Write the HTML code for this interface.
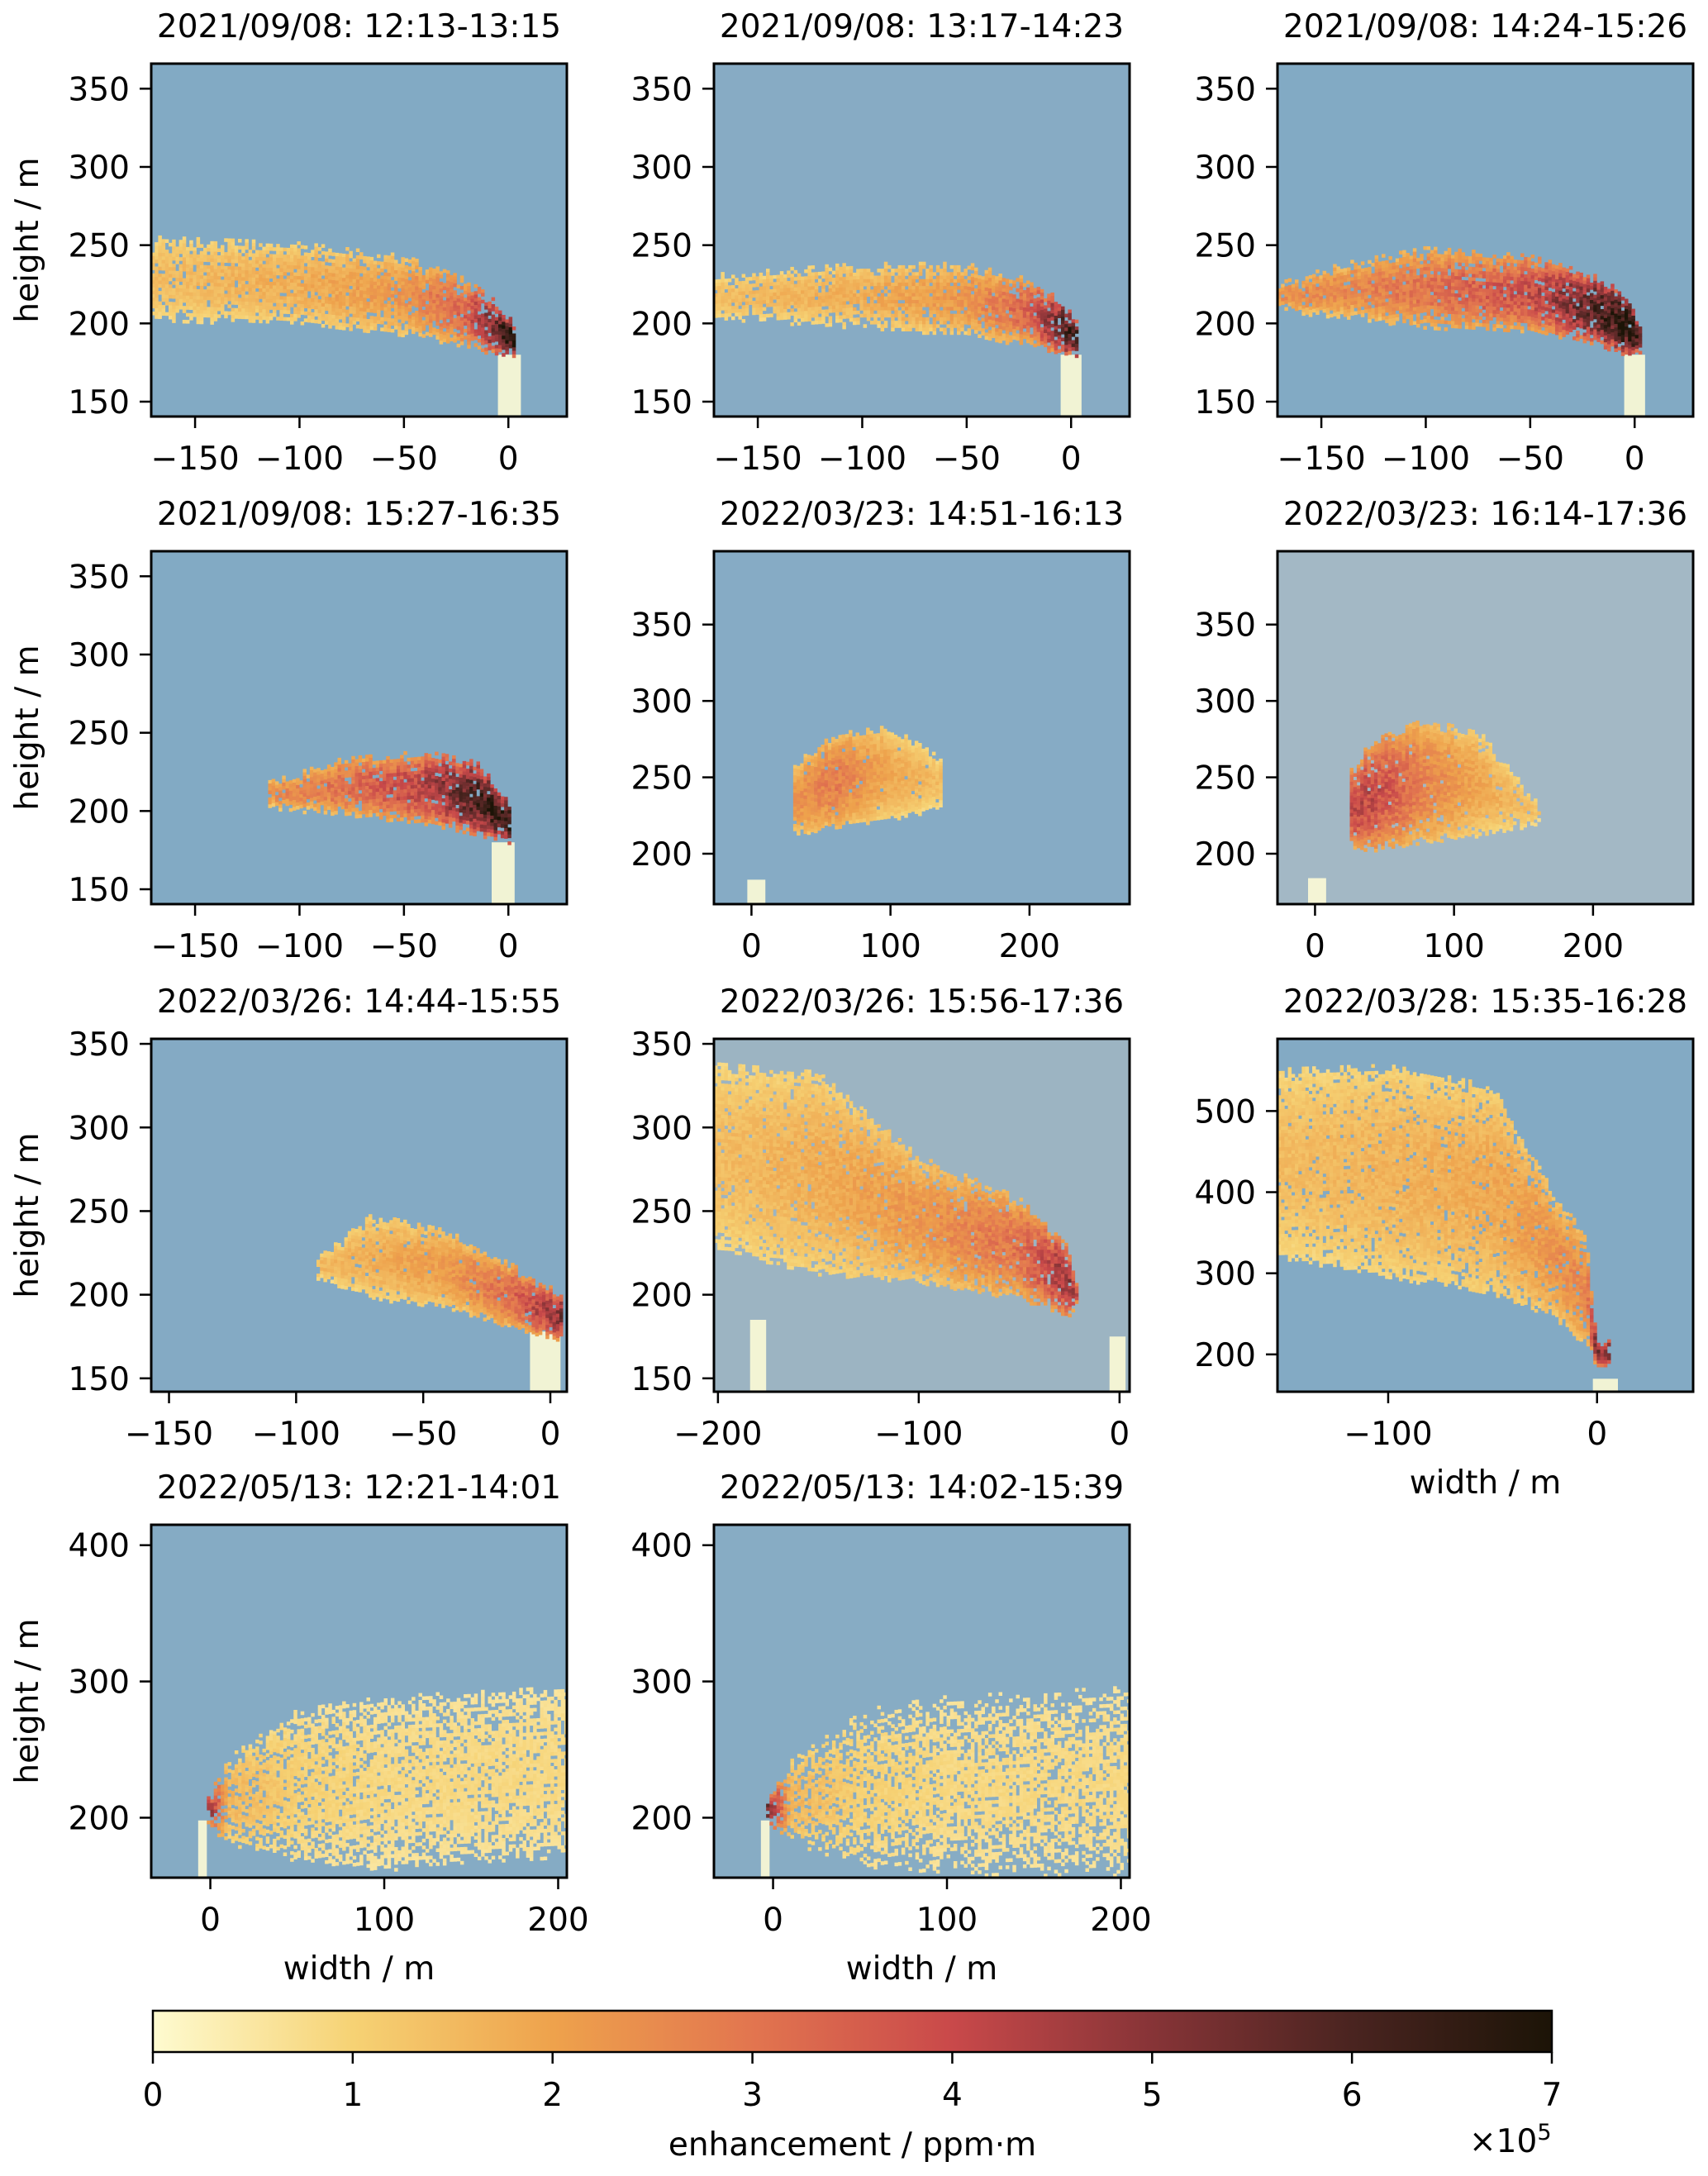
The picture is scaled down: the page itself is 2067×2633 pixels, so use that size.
<!DOCTYPE html>
<html><head><meta charset="utf-8">
<style>
html,body{margin:0;padding:0;background:#fff}
svg{display:block}
text{font-family:"DejaVu Sans","Liberation Sans",sans-serif;fill:#000}
</style></head>
<body>
<svg id="fig" xmlns="http://www.w3.org/2000/svg" width="2067" height="2633" viewBox="0 0 2067 2633">
<defs>
<linearGradient id="cbgrad" x1="0" x2="1" y1="0" y2="0">
<stop offset="0" stop-color="#fefbd0"/><stop offset="0.143" stop-color="#f6d274"/>
<stop offset="0.286" stop-color="#eea24c"/><stop offset="0.429" stop-color="#e2754f"/>
<stop offset="0.571" stop-color="#c9494a"/><stop offset="0.714" stop-color="#873437"/>
<stop offset="0.857" stop-color="#4a2420"/><stop offset="1" stop-color="#1c1407"/>
</linearGradient>
</defs>
</svg>
<script>
// ---------- data ----------
const panelTitles = ["2021/09/08: 12:13-13:15","2021/09/08: 13:17-14:23","2021/09/08: 14:24-15:26",
 "2021/09/08: 15:27-16:35","2022/03/23: 14:51-16:13","2022/03/23: 16:14-17:36",
 "2022/03/26: 14:44-15:55","2022/03/26: 15:56-17:36","2022/03/28: 15:35-16:28",
 "2022/05/13: 12:21-14:01","2022/05/13: 14:02-15:39"];
const xDomains = [[-171,28],[-171,28],[-171,28],[-171,28],[-27,272],[-27,272],[-157,6.5],[-202,5],[-153,46],[-34,205],[-34,205]];
const yDomains = [[140.5,366],[140.5,366],[140.5,366],[140.5,366],[167,398],[167,398],[142,353],[142,353],[154,589],[156,415],[156,415]];
const xTicks = [[-150,-100,-50,0],[-150,-100,-50,0],[-150,-100,-50,0],[-150,-100,-50,0],[0,100,200],[0,100,200],[-150,-100,-50,0],[-200,-100,0],[-100,0],[0,100,200],[0,100,200]];
const yTicks = [[150,200,250,300,350],[150,200,250,300,350],[150,200,250,300,350],[150,200,250,300,350],[200,250,300,350],[200,250,300,350],[150,200,250,300,350],[150,200,250,300,350],[200,300,400,500],[200,300,400],[200,300,400]];
// plume profiles: x positions, lower/upper edge (m), peak enhancement (1e5 ppm·m)
const plumeX  = [[-171,-100,-50,-20,-5,2],[-171,-100,-50,-20,-3,2],[-171,-140,-100,-50,-20,-3,2],[-115,-80,-40,-15,0],[30,60,100,135],[25,40,80,120,160],[-92,-70,-40,-15,4],[-202,-150,-100,-50,-25,-22],[-153,-100,-50,-20,-5,0,5],[-2,10,50,100,205],[-4,10,50,100,205]];
const plumeLo = [[205,202,195,188,182,180],[205,200,195,188,182,180],[210,207,200,198,190,182,182],[205,200,195,188,182],[215,220,225,232],[208,205,210,215,222],[212,200,195,182,175],[230,215,210,200,190,195],[325,300,280,250,215,190,190],[198,185,170,165,175],[198,185,165,162,160]];
const plumeHi = [[252,248,240,225,210,198],[228,235,235,225,210,198],[222,235,245,240,228,215,198],[215,230,235,228,205],[255,275,280,260],[250,270,285,275,230],[218,245,235,215,198],[335,330,280,255,225,205],[545,550,525,390,340,210,210],[208,240,275,285,292],[208,240,275,285,292]];
const plumeLevel = [[1.2,1.5,2.0,3.2,5.5,6.8],[1.2,1.5,2.0,3.2,5.5,6],[2.2,2.3,2.8,3.6,5.5,6.8,6],[2.2,2.8,4,5.8,6.5],[2.0,2.6,1.6,1.2],[3.8,3.8,2.4,1.6,1.1],[1.3,1.5,1.9,3.0,4.8],[1.2,1.5,2.0,2.8,4.5,4],[1.2,1.4,1.6,2.1,2.3,5,5],[5,1.4,0.8,0.6,0.6],[5.5,1.4,0.8,0.6,0.6]];
const holeProb = [0.18,0.2,0.15,0.12,0.05,0.08,0.08,0.12,0.12,0.35,0.5];
const stacks = [[[-5,6,140,180]],[[-5,5,140,180]],[[-5,5,140,180]],[[-8,3,140,180]],[[-3,10,167,183]],[[-5,8,167,184]],[[-8,4,142,178]],[[-184,-176,142,185],[-5,3,142,175]],[[-2,10,154,170]],[[-7,-2,156,198]],[[-7,-2,156,198]]];
const bgColors = ["#82aac4","#87abc4","#82aac4","#82aac4","#86abc5","#a3b8c5","#84aac4","#9cb4c2","#83aac4","#85abc4","#87acc4"];
const cbTicks = [0,1,2,3,4,5,6,7];
// ---------- layout ----------
const colL=[183,864,1546], colW=503, rowT=[77,667,1257,1845], rowH=427;
const FS=39;
const NS="http://www.w3.org/2000/svg";
const svg=document.getElementById('fig');
function el(tag,attrs,parent){const e=document.createElementNS(NS,tag);for(const k in attrs)e.setAttribute(k,attrs[k]);(parent||svg).appendChild(e);return e;}
const cmapStops=[[254,251,208],[246,210,116],[238,162,76],[226,117,79],[201,73,74],[135,52,55],[74,36,32],[28,20,7]];
function cmap(v){v=Math.max(0,Math.min(7,v));const i=Math.min(6,Math.floor(v)),f=v-i;const a=cmapStops[i],b=cmapStops[i+1];
 return `rgb(${Math.round(a[0]+(b[0]-a[0])*f)},${Math.round(a[1]+(b[1]-a[1])*f)},${Math.round(a[2]+(b[2]-a[2])*f)})`;}
function hash(a,b,c){let h=(a*374761393+b*668265263+c*2147483647)|0;h=(h^(h>>>13))*1274126177|0;h=h^(h>>>16);return ((h>>>0)%10000)/10000;}
function interp(xs,ys,x){if(x<=xs[0])return ys[0];for(let i=1;i<xs.length;i++){if(x<=xs[i]){const f=(x-xs[i-1])/(xs[i]-xs[i-1]);return ys[i-1]+(ys[i]-ys[i-1])*f;}}return ys[ys.length-1];}

for(let p=0;p<11;p++){
 const r=Math.floor(p/3),c=p%3;
 const L=colL[c],T=rowT[r],W=colW,H=rowH;
 const xd=xDomains[p],yd=yDomains[p];
 const sx=v=>L+(v-xd[0])/(xd[1]-xd[0])*W;
 const sy=v=>T+H-(v-yd[0])/(yd[1]-yd[0])*H;
 const g=el('g',{});
 
 
 const cp=el('clipPath',{id:'cp'+p},g);el('rect',{x:L,y:T,width:W,height:H},cp);
 const bg=el('rect',{x:L,y:T,width:W,height:H,fill:bgColors[p]},g);
 
 
 const cells=el('g',{'clip-path':`url(#cp${p})`},g);
 
 
 for(const s of stacks[p]){
  const st=el('rect',{x:sx(s[0]),y:sy(s[3]),width:sx(s[1])-sx(s[0]),height:sy(s[2])-sy(s[3]),fill:'#fdfbd6',opacity:0.9},cells);
  
  
 }
 const cw=4.2,ch=4.2;
 const xs=plumeX[p],lo=plumeLo[p],hi=plumeHi[p],lv=plumeLevel[p];
 let frag='';
 for(let px=sx(xs[0]),i=0;px<sx(xs[xs.length-1]);px+=cw,i++){
  const xv=xd[0]+(px+cw/2-L)/W*(xd[1]-xd[0]);
  const yl=interp(xs,lo,xv),yh=interp(xs,hi,xv),lev=interp(xs,lv,xv);
  const top=sy(yh)-(hash(i,7,p)*3|0)*ch,bot=sy(yl)+(hash(i,9,p)*2|0)*ch;
  const mid=(top+bot)/2,half=(bot-top)/2;
  for(let py=top,j=0;py<bot;py+=ch,j++){
   const d=Math.abs(py+ch/2-mid)/half;
   const hp=hash(i,j,p+31);
   if(hp<holeProb[p]*(0.4+1.2*d*d))continue;
   const v=lev*(1-0.5*d*d)*(0.82+0.36*hash(i,j,p+57))+0.25;
   frag+=`<rect x="${px.toFixed(1)}" y="${py.toFixed(1)}" width="${cw+0.3}" height="${ch+0.3}" fill="${cmap(v)}"/>`;
  }
 }
 cells.insertAdjacentHTML('beforeend',frag);
 const fr=el('rect',{x:L,y:T,width:W,height:H,fill:'none',stroke:'#000','stroke-width':3},g);
 
 
 for(const t of xTicks[p]){const x=sx(t);el('line',{x1:x,x2:x,y1:T+H,y2:T+H+14,stroke:'#000','stroke-width':2.5},g);
  const tx=el('text',{x:x,y:T+H+64,'font-size':FS,'text-anchor':'middle'},g);tx.textContent=String(t).replace('-','\u2212');
  
  }
 for(const t of yTicks[p]){const y=sy(t);el('line',{x1:L-14,x2:L,y1:y,y2:y,stroke:'#000','stroke-width':2.5},g);
  const ty=el('text',{x:L-26,y:y+14,'font-size':FS,'text-anchor':'end'},g);ty.textContent=t;
  
  }
 const tt=el('text',{x:L+W/2,y:T-32,'font-size':FS,'text-anchor':'middle'},g);tt.textContent=panelTitles[p];
 
 
 if(c===0){const yl=el('text',{x:0,y:0,'font-size':FS,'text-anchor':'middle',transform:`translate(46,${T+H/2}) rotate(-90)`},g);yl.textContent='height / m';
  
  }
 if(p>=8){const xl=el('text',{x:L+W/2,y:T+H+123,'font-size':FS,'text-anchor':'middle'},g);xl.textContent='width / m';
  
  }
}
// colorbar
const cbL=185,cbR=1878,cbT=2433,cbB=2483;
const cb=el('rect',{x:cbL,y:cbT,width:cbR-cbL,height:cbB-cbT,fill:'url(#cbgrad)',stroke:'#000','stroke-width':2.5});


for(const t of cbTicks){const x=cbL+t/7*(cbR-cbL);el('line',{x1:x,x2:x,y1:cbB,y2:cbB+14,stroke:'#000','stroke-width':2.5});
 const tl=el('text',{x:x,y:cbB+65,'font-size':FS,'text-anchor':'middle'});tl.textContent=t;
 
 }
const cbl=el('text',{x:(cbL+cbR)/2,y:2608,'font-size':FS,'text-anchor':'middle'});cbl.textContent='enhancement / ppm\u00b7m';


const off=el('text',{x:1778,y:2604,'font-size':FS});off.innerHTML='\u00d710<tspan dy="-15" font-size="27">5</tspan>';


</script>
</body></html>
